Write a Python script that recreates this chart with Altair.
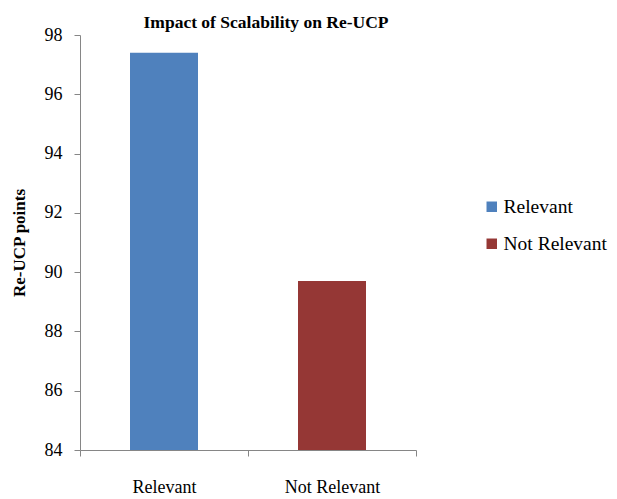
import altair as alt
import pandas as pd

categories = ["Relevant", "Not Relevant"]
values = [97.4, 89.7]
colors = ["#4F81BD", "#953735"]

df = pd.DataFrame({"category": categories, "value": values})

SERIF = "Liberation Serif"

chart = alt.Chart(df).mark_bar(size=68, clip=True).encode(
    x=alt.X("category:N", sort=categories, title=None,
            scale=alt.Scale(paddingInner=0, paddingOuter=0),
            axis=alt.Axis(labelAngle=0, labelFont=SERIF, labelFontSize=18,
                          labelColor="black", labelPadding=22, tickBand="extent",
                          tickSize=6, domainColor="#868686", tickColor="#868686")),
    y=alt.Y("value:Q", title="Re-UCP points",
            scale=alt.Scale(domain=[84, 98], nice=False, zero=False),
            axis=alt.Axis(values=[84, 86, 88, 90, 92, 94, 96, 98], grid=False,
                          labelFont=SERIF, labelFontSize=18, labelColor="black",
                          labelPadding=12, tickSize=6, domainColor="#868686", tickColor="#868686",
                          titleFont=SERIF, titleFontSize=17, titleFontWeight="bold",
                          titleColor="black", titlePadding=16)),
    color=alt.Color("category:N", sort=categories,
                    scale=alt.Scale(domain=categories, range=colors),
                    legend=alt.Legend(title=None, orient="none", legendX=402, legendY=162,
                                      symbolType="square", symbolSize=110, symbolStrokeWidth=0,
                                      labelFont=SERIF, labelFontSize=19.5,
                                      labelColor="black", rowPadding=16, labelOffset=2)),
).properties(
    width=336, height=415,
    title=alt.TitleParams("Impact of Scalability on Re-UCP", font=SERIF,
                          fontSize=17.5, fontWeight="bold", color="black", dx=18, offset=-5),
    autosize=alt.AutoSizeParams(type="none"),
    padding={"left": 72, "top": 27, "right": 192, "bottom": 48},
).configure_view(stroke=None)

chart.save("out.html", embed_options={"renderer": "svg", "actions": False})
